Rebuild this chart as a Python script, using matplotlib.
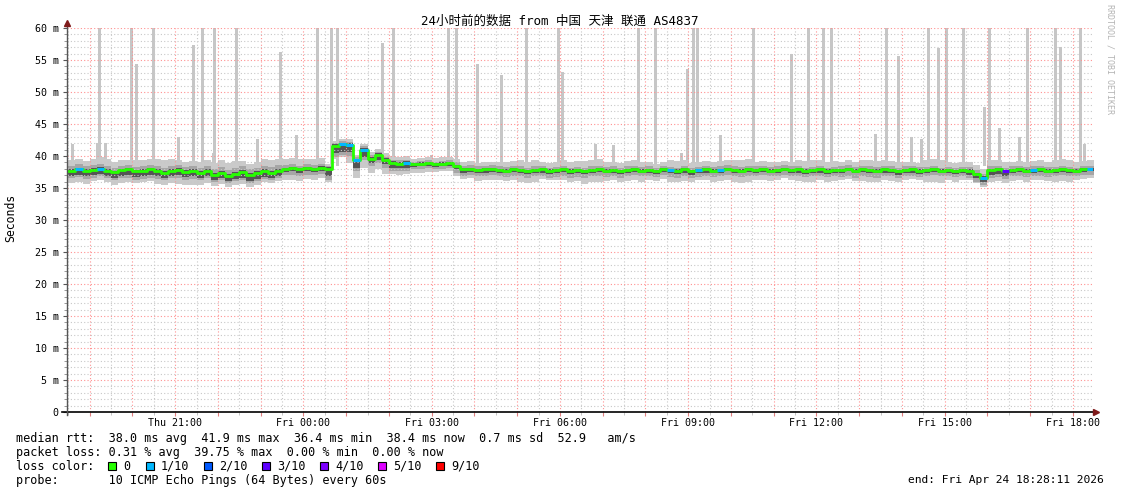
import numpy as np
import matplotlib.pyplot as plt
from matplotlib.patches import Rectangle

plt.rcParams['font.family'] = ['DejaVu Sans Mono', 'Noto Sans CJK SC']

W, H = 1121, 494

# hours relative to Fri 00:00, graph ends Fri 18:28:11
t_start = -5.53
t_end = 18.47
t0 = -5.5          # first 10 minute slot
slot = 1 / 6

# median rtt (ms), one value per 10 minutes, Thu 18:30 .. Fri 18:30
med_rtt = [
    37.7, 37.9, 37.6, 37.8, 38.0, 37.7,
    37.5, 37.8, 37.9, 37.6, 37.7, 37.9,
    37.6, 37.4, 37.7, 37.8, 37.5, 37.6,
    37.3, 37.6, 37.1, 37.4, 36.9, 37.2,
    37.5, 37.0, 37.3, 37.6, 37.4, 37.7,
    38.0, 38.1, 37.9, 38.1, 38.0, 38.2,
    38.0, 41.6, 41.8, 41.7, 39.3, 41.0,
    39.6, 40.1, 39.4, 38.9, 38.8, 38.9,
    38.7, 38.8, 38.9, 38.7, 38.8, 38.9,
    38.4, 37.9, 38.0, 37.8, 37.9, 38.0,
    37.8, 37.7, 37.9, 37.8, 37.6, 37.8,
    37.9, 37.7, 37.8, 38.0, 37.7, 37.8,
    37.6, 37.8, 37.9, 37.7, 37.8, 37.6,
    37.8, 37.9, 37.7, 37.8, 37.6, 37.9,
    37.8, 37.7, 37.9, 37.6, 37.8, 37.9,
    37.7, 37.8, 38.0, 37.8, 37.7, 37.9,
    37.8, 37.9, 37.7, 37.8, 38.0, 37.8,
    37.9, 37.7, 37.8, 37.9, 37.7, 37.8,
    37.8, 38.0, 37.7, 37.9, 37.8, 37.7,
    37.9, 37.8, 37.6, 37.8, 37.9, 37.7,
    37.8, 37.9, 37.7, 37.8, 37.6, 37.8,
    37.7, 37.2, 36.6, 37.8, 37.9, 37.6,
    37.8, 37.9, 37.7, 37.8, 37.9, 37.7,
    37.8, 37.9, 37.8, 37.7, 37.9, 38.0,
    38.1,
]

# slots with packet loss (hours, lost pings of 10)
loss_t = [-5.33, -4.83, 0.83, 1.0, 1.17, 1.33, 2.33, 8.5, 9.17, 9.67, 15.83, 16.33, 17.0, 18.33]
loss_n = [1, 1, 1, 1, 1, 1, 1, 1, 1, 1, 1, 3, 1, 1]

# outer smoke spread around the median (ms), one value per 30 minutes
light_dn = [1.9, 1.7, 2.0, 1.8, 1.9, 2.1, 1.8, 1.7, 1.9, 1.6, 1.8, 1.7,
            2.0, 2.8, 2.2, 1.7, 1.4, 1.2, 1.5, 1.7,
            1.6, 1.8, 1.5, 1.7, 1.9, 1.6, 1.7, 1.5, 1.8, 1.6, 1.7, 1.9, 1.6, 1.5,
            1.8, 1.7, 1.6, 1.8, 1.7, 1.5, 1.9, 1.6, 1.4, 1.8, 1.7, 1.6, 1.8, 1.5]
light_up = [1.6, 1.8, 1.5, 1.7, 1.9, 1.6, 1.8, 2.0, 1.7, 1.9, 1.6, 1.5,
            0.8, 0.9, 1.0, 1.1, 0.9, 1.0, 1.2, 1.1,
            1.3, 1.5, 1.2, 1.4, 1.6, 1.3, 1.4, 1.2, 1.5, 1.3, 1.4, 1.6, 1.3, 1.2,
            1.5, 1.4, 1.3, 1.5, 1.4, 1.2, 1.6, 1.3, 1.4, 1.5, 1.3, 1.4, 1.6, 1.3]
# inner smoke spread (ms), one value per hour
mid_dn = [1.2, 1.3, 1.2, 1.1, 1.2, 1.0, 1.7, 1.2, 0.8, 1.0, 1.0, 1.1, 1.0, 0.9, 1.1, 1.0, 0.9, 1.0, 1.1, 1.0, 0.9, 1.2, 1.0, 0.9]
mid_up = [0.8, 0.7, 0.8, 0.9, 0.9, 0.6, 0.5, 0.5, 0.4, 0.6, 0.6, 0.5, 0.6, 0.6, 0.5, 0.6, 0.6, 0.5, 0.6, 0.6, 0.5, 0.6, 0.6, 0.5]
dark_dn = [0.8, 0.9, 0.8, 0.8, 0.9, 0.5, 1.1, 0.7, 0.4, 0.5, 0.4, 0.5, 0.4, 0.4, 0.5, 0.4, 0.4, 0.5, 0.4, 0.5, 0.4, 0.7, 0.4, 0.4]
dark_up = [0.3, 0.2, 0.3, 0.3, 0.3, 0.2, 0.3, 0.3, 0.2, 0.2, 0.2, 0.2, 0.2, 0.2, 0.2, 0.2, 0.2, 0.2, 0.2, 0.2, 0.2, 0.2, 0.2, 0.2]

# single ping outliers (hours, top in ms; 60 = off the chart)
spike_t = [-5.39, -4.82, -4.76, -4.63, -4.02, -3.90, -3.50, -2.93, -2.57, -2.36, -2.10, -2.07,
           -1.57, -1.07, -0.53, -0.15, 0.32, 0.66, 0.79, 1.86, 2.11, 2.99, 3.39, 3.57,
           4.08, 4.63, 5.21, 5.96, 6.07, 6.84, 7.26, 7.85, 8.24, 8.85, 8.99, 9.12,
           9.22, 9.76, 10.53, 11.41, 11.82, 12.17, 12.35, 13.38, 13.65, 13.93, 14.22, 14.46,
           14.63, 14.86, 15.04, 15.43, 15.93, 16.06, 16.29, 16.74, 16.93, 17.59, 17.70, 18.18, 18.26]
spike_top = [41.9, 42.0, 60, 42.0, 60, 54.4, 60, 43.0, 57.3, 60, 40.5, 60,
             60, 42.7, 56.3, 43.3, 60, 60, 60, 57.7, 60, 40.2, 60, 60,
             54.4, 52.6, 60, 60, 53.1, 41.9, 41.7, 60, 60, 40.5, 53.6, 60,
             60, 43.3, 60, 56.0, 60, 60, 60, 43.4, 60, 55.7, 43.0, 42.7,
             60, 56.8, 60, 60, 47.7, 60, 44.4, 43.0, 60, 60, 57.0, 60, 41.9]

loss_colors = {0: '#26ff00', 1: '#00b8ff', 2: '#0059ff', 3: '#5e00ff',
               4: '#7e00ff', 5: '#dd00ff', 9: '#ff0000'}
legend_loss = [0, 1, 2, 3, 4, 5, 9]
legend_lbl = ['0', '1/10', '2/10', '3/10', '4/10', '5/10', '9/10']

xtick_hours = [-3, 0, 3, 6, 9, 12, 15, 18]
xtick_lbl = ['Thu 21:00', 'Fri 00:00', 'Fri 03:00', 'Fri 06:00',
             'Fri 09:00', 'Fri 12:00', 'Fri 15:00', 'Fri 18:00']

legend_rows = [
    'median rtt:  38.0 ms avg  41.9 ms max  36.4 ms min  38.4 ms now  0.7 ms sd  52.9   am/s',
    'packet loss: 0.31 % avg  39.75 % max  0.00 % min  0.00 % now',
    'loss color:',
    'probe:       10 ICMP Echo Pings (64 Bytes) every 60s',
]


def per_slot(a, n):
    a = np.repeat(np.asarray(a, float), n)
    return np.append(a, a[-1])


fig = plt.figure(figsize=(W / 100, H / 100), dpi=100)
fig.patch.set_facecolor('white')
ax = fig.add_axes([67 / W, 82 / H, 1026 / W, 384 / H])
ax.set_xlim(t_start, t_end)
ax.set_ylim(0, 60)

med = np.array(med_rtt)
t = t0 + np.arange(len(med)) * slot

# outliers
ax.bar(spike_t, np.array(spike_top) - 38.5, bottom=38.5, width=0.07,
       color='#c6c6c6', lw=0, zorder=1.5)

# smoke
for dn, up, n, col in [(light_dn, light_up, 3, '#cacaca'),
                       (mid_dn, mid_up, 6, '#a6a6a6'),
                       (dark_dn, dark_up, 6, '#555555')]:
    ax.fill_between(t, med - per_slot(dn, n), med + per_slot(up, n), step='post',
                    color=col, lw=0, zorder=2)

# grid
for hh in np.arange(-5.5, t_end, 0.5):
    if hh % 1 == 0:
        ax.axvline(hh, color='#ff9090', lw=0.8, ls=(0, (1, 2)), zorder=3)
    else:
        ax.axvline(hh, color='#c8c8c8', lw=0.8, ls=(0, (1, 2)), zorder=3)
for yy in range(1, 61):
    if yy % 5 == 0:
        ax.axhline(yy, color='#ff9090', lw=0.8, ls=(0, (1, 2)), zorder=3)
    else:
        ax.axhline(yy, color='#c8c8c8', lw=0.8, ls=(0, (1, 2)), zorder=3)

# median line coloured by loss
loss = np.zeros(len(med), int)
for lt, ln in zip(loss_t, loss_n):
    loss[int(round((lt - t0) / slot))] = ln
ax.step(t, med, where='post', color=loss_colors[0], lw=2, zorder=4)
for i in range(len(med) - 1):
    if loss[i] > 0:
        ax.hlines(med[i], t[i], t[i + 1], color=loss_colors[loss[i]], lw=2.2, zorder=5)

# axes
for s in ax.spines.values():
    s.set_visible(False)
ax.plot([-0.005, 1.0], [0, 0], transform=ax.transAxes, color='black', lw=1.2, clip_on=False, zorder=6)
ax.plot([0, 0], [-0.008, 1.01], transform=ax.transAxes, color='#555555', lw=1, clip_on=False, zorder=6)
ax.plot(1.003, 0, marker='>', ms=4, color='#7f1a1a', transform=ax.transAxes, clip_on=False, zorder=7)
ax.plot(0, 1.012, marker='^', ms=4, color='#7f1a1a', transform=ax.transAxes, clip_on=False, zorder=7)

ax.set_yticks(range(0, 61, 5))
ax.set_yticklabels(['0'] + ['%d m' % v for v in range(5, 61, 5)])
ax.set_yticks(range(0, 61), minor=True)
ax.set_xticks(np.arange(-5, 19, 1))
ax.set_xticklabels([xtick_lbl[xtick_hours.index(h)] if h in xtick_hours else '' for h in range(-5, 19)])
ax.set_xticks(np.arange(-5.5, 18.5, 0.5), minor=True)
ax.tick_params(axis='y', which='major', length=3, color='#555555', labelsize=7.2, pad=3)
ax.tick_params(axis='y', which='minor', length=2, color='#888888')
ax.tick_params(axis='x', which='major', length=3, color='#e08080', labelsize=7.2, pad=1)
ax.tick_params(axis='x', which='minor', length=2, color='#bbbbbb')

fig.text(560 / W, 1 - 21 / H, '24小时前的数据 from 中国 天津 联通 AS4837',
         ha='center', va='center', fontsize=9)
fig.text(11 / W, 1 - 218 / H, 'Seconds', rotation=90, ha='center', va='center', fontsize=8.3)
fig.text(1110 / W, 1 - 4 / H, 'RRDTOOL / TOBI OETIKER', rotation=270, ha='center', va='top',
         fontsize=6, color='#b4b4b4')

for k, s in enumerate(legend_rows):
    fig.text(16 / W, 1 - (438 + 14 * k) / H, s, ha='left', va='center', fontsize=8.5)
fig.text(1104 / W, 1 - 480 / H, 'end: Fri Apr 24 18:28:11 2026', ha='right', va='center', fontsize=8.1)

sq_x = [108, 146, 204, 262, 320, 378, 436]
for x, n, lbl in zip(sq_x, legend_loss, legend_lbl):
    fig.patches.append(Rectangle((x / W, 1 - 470 / H), 8 / W, 8 / H, transform=fig.transFigure,
                                 facecolor=loss_colors[n], edgecolor='black', lw=0.8))
    fig.text((x + 15) / W, 1 - 466 / H, lbl, ha='left', va='center', fontsize=8.5)

fig.savefig('out.png', dpi=100)
